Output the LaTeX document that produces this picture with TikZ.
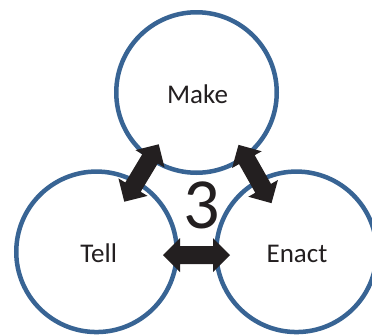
\documentclass[tikz,border=0pt]{standalone}
\usepackage{fontspec}
\setmainfont{Carlito}
\definecolor{ringblue}{RGB}{56,100,148}
\definecolor{inkdark}{RGB}{35,31,32}
\tikzset{
  ring/.style={circle, draw=ringblue, line width=4.5pt, minimum size=160.5pt, inner sep=0pt},
  lbl/.style={anchor=base, text=inkdark, font=\fontsize{27}{30}\selectfont, inner sep=0pt},
  bignum/.style={anchor=base, text=inkdark, font=\fontsize{72}{80}\selectfont, inner sep=0pt},
  dblarr/.pic={
    \fill[inkdark] (-\arrlen,0) -- (-\arrlen+17,17) -- (-\arrlen+17,9) -- (\arrlen-17,9)
      -- (\arrlen-17,17) -- (\arrlen,0) -- (\arrlen-17,-17) -- (\arrlen-17,-9)
      -- (-\arrlen+17,-9) -- (-\arrlen+17,-17) -- cycle;
  }
}
\newcommand{\arrlen}{33.5}
\begin{document}
\begin{tikzpicture}[x=1pt,y=-1pt]
  \clip (0,0) rectangle (372,335);
  \fill[white] (0,0) rectangle (372,335);
  % circles
  \node[ring] (make)  at (196.5,92.5) {};
  \node[ring] (tell)  at (96.5,251.8) {};
  \node[ring] (enact) at (296.5,251.8) {};
  % labels
  \node[lbl] (makel)  at (197.5,103.3) {Make};
  \node[lbl] (telll)  at (98.7,262.7) {Tell};
  \node[lbl] (enactl) at (297,262.7) {Enact};
  % double block arrows
  \pic[rotate=59]   at (141.5,173) {dblarr};
  \pic[rotate=-60.5] at (255,174) {dblarr};
  \pic              at (196.5,255) {dblarr};
  % central number
  \node[bignum] (three) at (202,228) {3};
\end{tikzpicture}
\end{document}
